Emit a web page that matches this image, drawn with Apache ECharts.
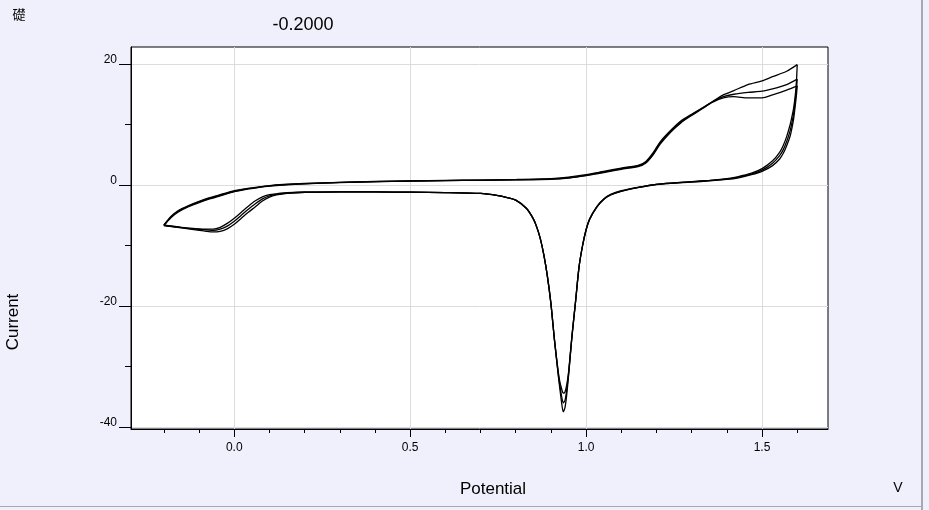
<!DOCTYPE html>
<html>
<head>
<meta charset="utf-8">
<title>CV</title>
<script src="https://cdn.jsdelivr.net/npm/echarts@6.0.0/dist/echarts.min.js"></script>
<style>
  html, body { margin: 0; padding: 0; background: #f0f0fc; }
  #chart { width: 929px; height: 510px; }
</style>
</head>
<body>
<div id="chart"></div>
<script>
// 轴范围 / 刻度
const xMin = -0.2935
const xMax = 1.6875
const yMin = -40.33
const yMax = 22.81
const xMajor = [0, 0.5, 1.0, 1.5]
const xMinor = [-0.2, -0.1, 0.1, 0.2, 0.3, 0.4, 0.6, 0.7, 0.8, 0.9, 1.1, 1.2, 1.3, 1.4, 1.6]
const yMajor = [-40, -20, 0, 20]
const yMinor = [-30, -10, 10]

// 正扫 (-0.2 -> 1.6 V)
const fwdV = [-0.2, -0.18, -0.16, -0.13, -0.1, -0.07, -0.04, 0.0, 0.03, 0.06, 0.1, 0.14, 0.2, 0.3, 0.4, 0.5, 0.6, 0.7, 0.8, 0.9, 0.95, 1.0, 1.05, 1.1, 1.15, 1.17, 1.19, 1.21, 1.24, 1.27, 1.3, 1.33, 1.36, 1.39, 1.42, 1.46, 1.5, 1.53, 1.57, 1.6]
const fwdI1 = [-6.7, -5.4, -4.5, -3.6, -2.9, -2.3, -1.8, -1.1, -0.75, -0.5, -0.2, 0.0, 0.2, 0.4, 0.55, 0.65, 0.72, 0.78, 0.85, 0.95, 1.15, 1.55, 2.05, 2.6, 3.1, 3.65, 4.95, 6.7, 8.7, 10.3, 11.5, 12.6, 13.8, 14.9, 15.6, 16.6, 17.2, 17.9, 18.8, 19.9]
const fwdI2 = [-6.6, -5.3, -4.35, -3.5, -2.8, -2.2, -1.7, -1.05, -0.7, -0.45, -0.15, 0.05, 0.22, 0.42, 0.56, 0.66, 0.73, 0.8, 0.88, 1.0, 1.2, 1.6, 2.15, 2.7, 3.2, 3.75, 5.1, 6.9, 8.8, 10.4, 11.6, 12.7, 13.8, 14.6, 15.0, 15.3, 15.5, 15.9, 16.6, 17.5]
const fwdI3 = [-6.65, -5.2, -4.25, -3.4, -2.7, -2.1, -1.6, -0.95, -0.65, -0.4, -0.1, 0.08, 0.25, 0.44, 0.58, 0.68, 0.75, 0.82, 0.9, 1.05, 1.3, 1.7, 2.25, 2.8, 3.3, 3.9, 5.3, 7.1, 9.0, 10.6, 11.7, 12.7, 13.7, 14.4, 14.6, 14.4, 14.4, 14.9, 15.7, 16.4]

// 反扫 (1.6 -> -0.2 V)
const revV = [1.6, 1.598, 1.595, 1.59, 1.585, 1.58, 1.57, 1.56, 1.55, 1.53, 1.5, 1.47, 1.43, 1.4, 1.35, 1.3, 1.25, 1.2, 1.15, 1.1, 1.07, 1.05, 1.03, 1.01, 1.0, 0.99, 0.98, 0.97, 0.96, 0.955, 0.95, 0.945, 0.94, 0.935, 0.93, 0.925, 0.92, 0.91, 0.9, 0.89, 0.88, 0.87, 0.86, 0.85, 0.83, 0.8, 0.77, 0.75, 0.7, 0.6, 0.5, 0.4, 0.3, 0.2, 0.15, 0.12, 0.1, 0.08, 0.06, 0.04, 0.02, 0.0, -0.02, -0.04, -0.06, -0.08, -0.1, -0.15, -0.2]
const revI1 = [19.9, 17.3, 15.1, 12.8, 11.3, 10.0, 8.0, 6.5, 5.4, 4.0, 2.7, 1.95, 1.35, 1.05, 0.78, 0.57, 0.36, 0.12, -0.35, -0.95, -1.55, -2.3, -3.6, -5.6, -7.4, -10.0, -13.5, -19.3, -24.8, -28.2, -31.6, -34.6, -36.8, -37.5, -35.8, -33.5, -31.0, -25.6, -19.6, -15.1, -11.6, -8.9, -7.0, -5.6, -3.85, -2.5, -2.0, -1.75, -1.4, -1.25, -1.2, -1.15, -1.15, -1.2, -1.38, -1.65, -2.0, -2.65, -3.6, -4.5, -5.5, -6.5, -7.25, -7.65, -7.75, -7.65, -7.5, -7.1, -6.7]
const revI2 = [17.5, 16.0, 14.3, 11.9, 10.3, 9.0, 7.2, 5.8, 4.85, 3.6, 2.45, 1.8, 1.25, 0.98, 0.72, 0.52, 0.33, 0.1, -0.38, -1.0, -1.6, -2.35, -3.65, -5.65, -7.4, -10.0, -13.5, -19.3, -25.0, -28.2, -31.3, -33.8, -35.6, -36.0, -34.8, -33.0, -30.8, -25.6, -19.6, -15.1, -11.6, -8.9, -7.0, -5.6, -3.85, -2.5, -2.0, -1.75, -1.4, -1.25, -1.2, -1.15, -1.15, -1.2, -1.33, -1.55, -1.8, -2.3, -3.1, -4.0, -5.0, -6.0, -6.8, -7.3, -7.5, -7.4, -7.35, -7.05, -6.65]
const revI3 = [16.4, 15.0, 13.4, 11.0, 9.4, 8.1, 6.5, 5.2, 4.3, 3.2, 2.25, 1.7, 1.15, 0.92, 0.68, 0.48, 0.3, 0.08, -0.4, -1.05, -1.65, -2.4, -3.7, -5.7, -7.4, -10.0, -13.5, -19.2, -24.8, -27.9, -31.0, -33.0, -34.2, -34.4, -33.6, -32.4, -30.5, -25.5, -19.6, -15.1, -11.6, -8.9, -7.0, -5.6, -3.85, -2.5, -2.0, -1.75, -1.4, -1.25, -1.2, -1.15, -1.15, -1.2, -1.28, -1.45, -1.6, -1.95, -2.6, -3.5, -4.5, -5.5, -6.35, -7.0, -7.3, -7.3, -7.25, -7.0, -6.65]

const pairs = (xs, ys) => xs.map((x, i) => [x, ys[i]])

const branches = [
  pairs(fwdV, fwdI1), pairs(revV, revI1),
  pairs(fwdV, fwdI2), pairs(revV, revI2),
  pairs(fwdV, fwdI3), pairs(revV, revI3),
]

const labelFont = '"Liberation Sans", Arial, sans-serif'
const myEcharts = echarts.init(document.getElementById('chart'), null, { renderer: 'canvas' })

myEcharts.setOption({
  animation: false,
  backgroundColor: '#f0f0fc',
  grid: {
    left: 131,
    top: 47,
    width: 697,
    height: 382,
    show: true,
    backgroundColor: '#fff',
    borderColor: '#000',
    borderWidth: 1,
    containLabel: false,
    outerBoundsMode: 'none',
  },
  xAxis: [
    {
      type: 'value',
      position: 'bottom',
      min: xMin,
      max: xMax,
      axisLine: { show: true, onZero: false, lineStyle: { color: '#000', width: 1 } },
      axisTick: { show: true, inside: false, length: 8, customValues: xMajor, lineStyle: { color: '#000' } },
      axisLabel: {
        customValues: xMajor,
        margin: 13,
        fontSize: 12,
        fontFamily: labelFont,
        color: '#000',
        formatter: (v) => Number(v).toFixed(1),
      },
      splitLine: { show: true, lineStyle: { color: '#dcdcdc', width: 1 } },
    },
    {
      // 小刻度
      type: 'value',
      position: 'bottom',
      min: xMin,
      max: xMax,
      axisLine: { show: false, onZero: false },
      axisTick: { show: true, length: 4, customValues: xMinor, lineStyle: { color: '#000' } },
      axisLabel: { show: false },
      splitLine: { show: false },
    },
  ],
  yAxis: [
    {
      type: 'value',
      position: 'left',
      min: yMin,
      max: yMax,
      axisLine: { show: true, onZero: false, lineStyle: { color: '#000', width: 1 } },
      axisTick: { show: true, length: 12, customValues: yMajor, lineStyle: { color: '#000' } },
      axisLabel: {
        customValues: yMajor,
        margin: 14,
        fontSize: 12,
        fontFamily: labelFont,
        color: '#000',
        verticalAlign: 'bottom',
        lineHeight: 9,
      },
      splitLine: { show: true, lineStyle: { color: '#dcdcdc', width: 1 } },
    },
    {
      type: 'value',
      position: 'left',
      min: yMin,
      max: yMax,
      axisLine: { show: false, onZero: false },
      axisTick: { show: true, length: 6, customValues: yMinor, lineStyle: { color: '#000' } },
      axisLabel: { show: false },
      splitLine: { show: false },
    },
  ],
  series: branches.map((d) => ({
    type: 'line',
    xAxisIndex: 0,
    yAxisIndex: 0,
    data: d,
    symbol: 'none',
    smooth: 0.25,
    lineStyle: { color: '#000', width: 1.3 },
    silent: true,
  })),
  graphic: [
    { type: 'text', x: 19, y: 14, style: { text: '礎', font: '13px "Noto Sans CJK SC"', fill: '#000', align: 'center', verticalAlign: 'middle' } },
    { type: 'text', x: 303, y: 25, style: { text: '-0.2000', font: '18px ' + labelFont, fill: '#000', align: 'center', verticalAlign: 'middle' } },
    { type: 'text', x: 13, y: 322, rotation: Math.PI / 2, style: { text: 'Current', font: '17px ' + labelFont, fill: '#000', align: 'center', verticalAlign: 'middle' } },
    { type: 'text', x: 493, y: 489, style: { text: 'Potential', font: '17px ' + labelFont, fill: '#000', align: 'center', verticalAlign: 'middle' } },
    { type: 'text', x: 898, y: 488, style: { text: 'V', font: '14px ' + labelFont, fill: '#000', align: 'center', verticalAlign: 'middle' } },
    // 窗口边框
    { type: 'rect', shape: { x: 921, y: 0, width: 2, height: 510 }, style: { fill: '#a8a8b0' } },
    { type: 'rect', shape: { x: 0, y: 506, width: 921, height: 1 }, style: { fill: '#a8a8b0' } },
  ],
})
</script>
</body>
</html>
